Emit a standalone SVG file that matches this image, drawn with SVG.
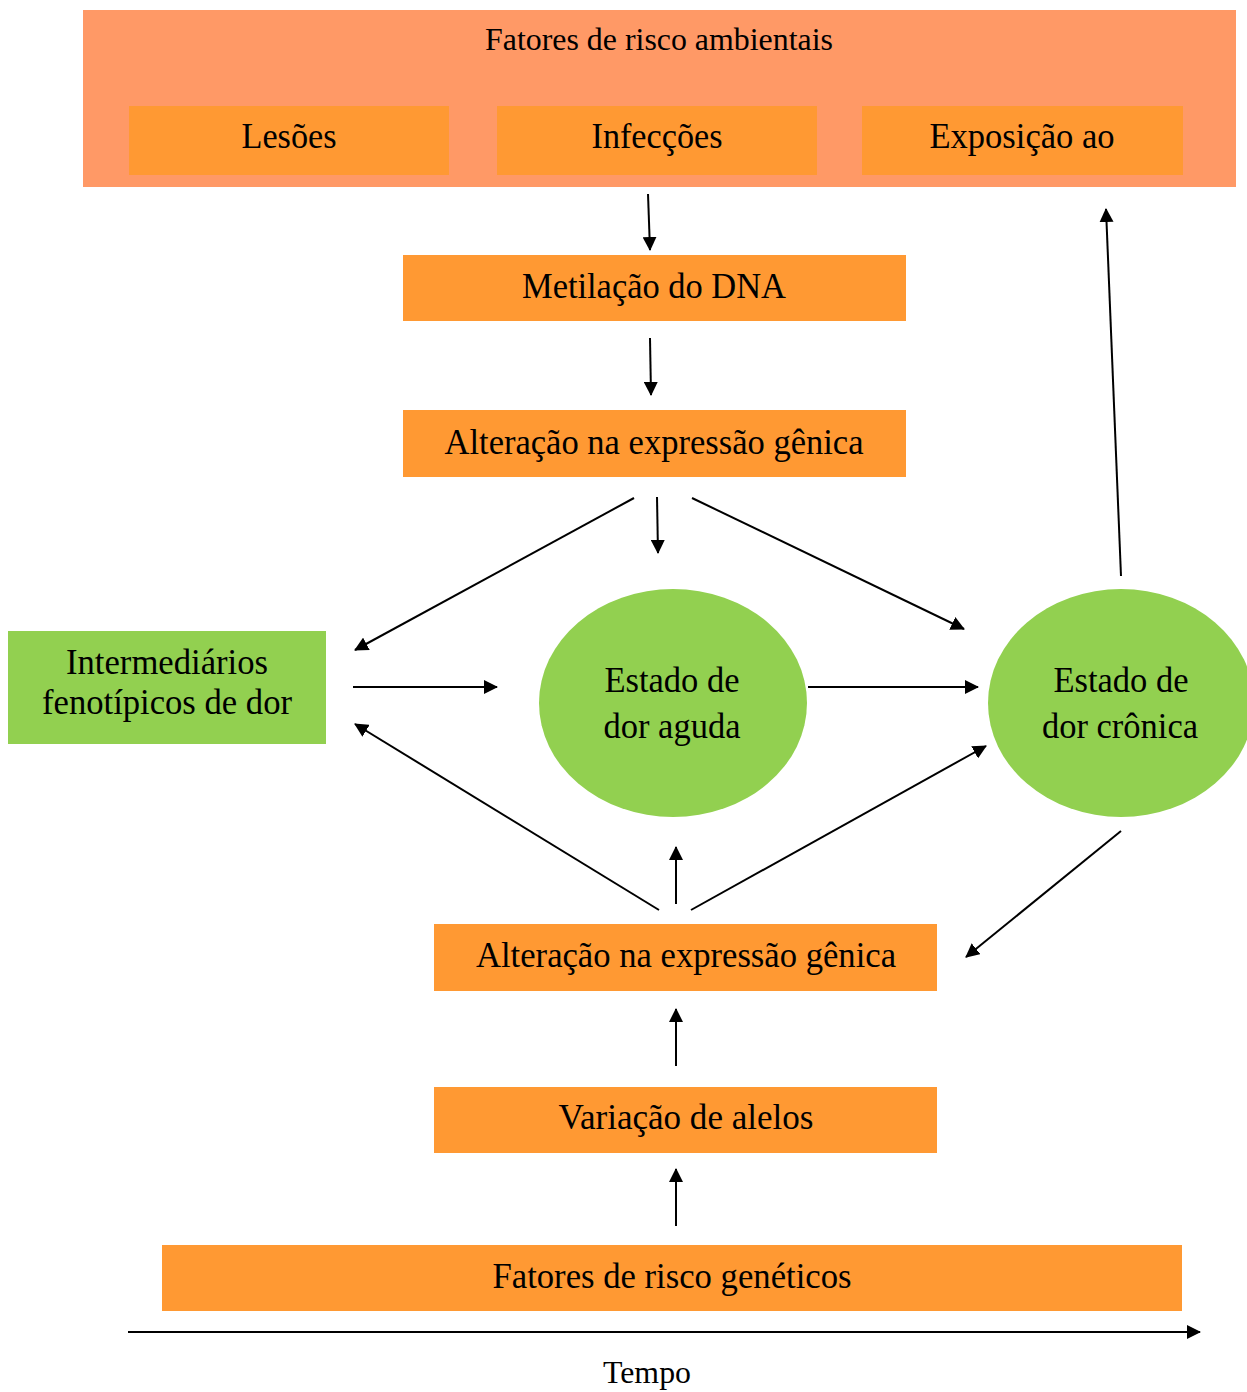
<svg xmlns="http://www.w3.org/2000/svg" width="1247" height="1392" viewBox="0 0 1247 1392">
<style>
.t{font-family:"Liberation Serif","Times New Roman",serif;fill:#000;text-anchor:middle}
.m{font-size:35px}
.s{font-size:32px}
.box{fill:#FF9933}
.grn{fill:#92D050}
.c{stroke:#000;stroke-width:2;fill:none;marker-end:url(#ah)}
</style>
<defs>
<marker id="ah" markerUnits="userSpaceOnUse" markerWidth="14" markerHeight="14" viewBox="0 0 14 14" refX="13" refY="7" orient="auto">
<path d="M0,0 L14,7 L0,14 Z" fill="#000"/>
</marker>
</defs>
<rect width="1247" height="1392" fill="#fff"/>
<g id="ambientais">
<rect x="83" y="10" width="1153" height="177" fill="#FF9966"/>
<text class="t s" x="659" y="50" textLength="348" lengthAdjust="spacingAndGlyphs">Fatores de risco ambientais</text>
</g>
<g id="lesoes">
<rect class="box" x="129" y="106" width="320" height="69"/>
<text class="t m" x="289" y="148" textLength="95" lengthAdjust="spacingAndGlyphs">Lesões</text>
</g>
<g id="infeccoes">
<rect class="box" x="497" y="106" width="320" height="69"/>
<text class="t m" x="657" y="148" textLength="131" lengthAdjust="spacingAndGlyphs">Infecções</text>
</g>
<g id="exposicao">
<rect class="box" x="862" y="106" width="321" height="69"/>
<text class="t m" x="1022" y="148" textLength="185" lengthAdjust="spacingAndGlyphs">Exposição ao</text>
</g>
<g id="metilacao">
<rect class="box" x="403" y="255" width="503" height="66"/>
<text class="t m" x="654" y="298" textLength="264" lengthAdjust="spacingAndGlyphs">Metilação do DNA</text>
</g>
<g id="alteracao1">
<rect class="box" x="403" y="410" width="503" height="67"/>
<text class="t m" x="654" y="454" textLength="419" lengthAdjust="spacingAndGlyphs">Alteração na expressão gênica</text>
</g>
<g id="intermediarios">
<rect class="grn" x="8" y="631" width="318" height="113"/>
<text class="t m" x="167" y="674" textLength="202" lengthAdjust="spacingAndGlyphs">Intermediários</text>
<text class="t m" x="167" y="714" textLength="250" lengthAdjust="spacingAndGlyphs">fenotípicos de dor</text>
</g>
<g id="aguda">
<ellipse class="grn" cx="673" cy="703" rx="134" ry="114"/>
<text class="t m" x="672" y="692" textLength="135" lengthAdjust="spacingAndGlyphs">Estado de</text>
<text class="t m" x="672" y="738" textLength="137" lengthAdjust="spacingAndGlyphs">dor aguda</text>
</g>
<g id="cronica">
<ellipse class="grn" cx="1121" cy="703" rx="133" ry="114"/>
<text class="t m" x="1121" y="692" textLength="135" lengthAdjust="spacingAndGlyphs">Estado de</text>
<text class="t m" x="1120" y="738" textLength="156" lengthAdjust="spacingAndGlyphs">dor crônica</text>
</g>
<g id="alteracao2">
<rect class="box" x="434" y="924" width="503" height="67"/>
<text class="t m" x="686" y="967" textLength="420" lengthAdjust="spacingAndGlyphs">Alteração na expressão gênica</text>
</g>
<g id="variacao">
<rect class="box" x="434" y="1087" width="503" height="66"/>
<text class="t m" x="686" y="1129" textLength="255" lengthAdjust="spacingAndGlyphs">Variação de alelos</text>
</g>
<g id="geneticos">
<rect class="box" x="162" y="1245" width="1020" height="66"/>
<text class="t m" x="672" y="1288" textLength="359" lengthAdjust="spacingAndGlyphs">Fatores de risco genéticos</text>
</g>
<g id="tempo">
<text class="t s" x="647" y="1383" textLength="88" lengthAdjust="spacingAndGlyphs">Tempo</text>
</g>
<g id="connectors">
<line class="c" x1="648" y1="194" x2="650" y2="250"/>
<line class="c" x1="650" y1="338" x2="651" y2="395"/>
<line class="c" x1="634" y1="498" x2="355" y2="650"/>
<line class="c" x1="657" y1="497" x2="658" y2="553"/>
<line class="c" x1="692" y1="498" x2="964" y2="629"/>
<line class="c" x1="353" y1="687" x2="497" y2="687"/>
<line class="c" x1="808" y1="687" x2="978" y2="687"/>
<line class="c" x1="1121" y1="576" x2="1106" y2="209"/>
<line class="c" x1="659" y1="910" x2="355" y2="724"/>
<line class="c" x1="676" y1="904" x2="676" y2="847"/>
<line class="c" x1="691" y1="910" x2="986" y2="746"/>
<line class="c" x1="1121" y1="831" x2="966" y2="957"/>
<line class="c" x1="676" y1="1066" x2="676" y2="1009"/>
<line class="c" x1="676" y1="1226" x2="676" y2="1169"/>
<line class="c" x1="128" y1="1332" x2="1200" y2="1332"/>
</g>
</svg>
